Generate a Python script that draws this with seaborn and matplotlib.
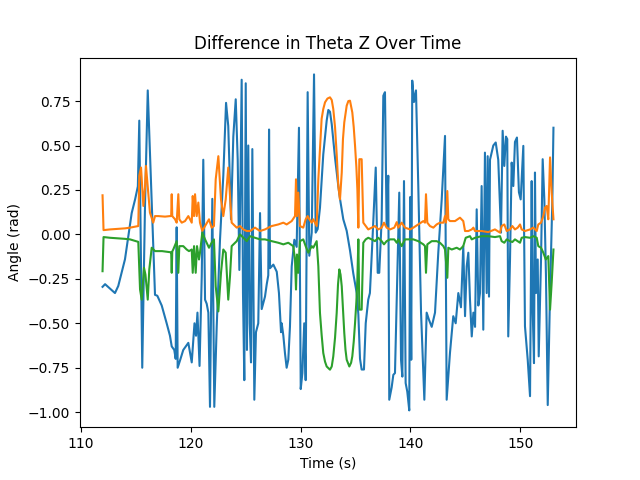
import matplotlib
matplotlib.use("Agg")
import matplotlib.pyplot as plt
import seaborn as sns

# Time stamps (s) and angle differences (rad)
t_blue = [112.00, 112.23, 112.68, 113.13, 113.43, 113.59, 114.04, 114.34, 114.65, 114.96,
          115.21, 115.34, 115.61, 115.86, 116.11, 116.77, 116.98, 117.38, 117.83, 118.13,
          118.29, 118.52, 118.65, 118.74, 118.83, 119.04, 119.34, 119.80, 120.11, 120.36,
          120.50, 120.63, 120.82, 121.02, 121.16, 121.32, 121.47, 121.62, 121.77, 121.98,
          122.16, 122.38, 122.68, 122.98, 123.23, 123.43, 123.68, 123.89, 124.11, 124.29,
          124.44, 124.65, 124.77, 124.89, 125.02, 125.13, 125.25, 125.38, 125.50, 125.62,
          125.80, 125.95, 126.16, 126.32, 126.47, 126.77, 126.93, 127.07, 127.14, 127.23,
          127.53, 127.84, 128.04, 128.23, 128.29, 128.44, 128.59, 128.74, 128.89, 129.04,
          129.20, 129.44, 129.65, 129.86, 130.02, 130.17, 130.34, 130.47, 130.56, 130.65,
          130.80, 131.02, 131.23, 131.38, 131.56, 131.77, 131.92, 132.07, 132.23, 132.38,
          132.53, 132.68, 132.84, 132.98, 133.14, 133.29, 133.44, 133.59, 133.89, 134.20,
          134.50, 134.80, 135.11, 135.26, 135.41, 135.56, 135.77, 135.93, 136.16, 136.31,
          136.53, 136.84, 137.02, 137.16, 137.38, 137.53, 137.68, 137.83, 137.98, 138.07,
          138.29, 138.44, 138.59, 138.84, 138.98, 139.14, 139.26, 139.41, 139.56, 139.71,
          139.89, 139.97, 140.07, 140.16, 140.32, 140.50, 140.71, 140.96, 141.26, 141.47,
          141.68, 141.93, 142.23, 142.53, 142.84, 143.14, 143.29, 143.59, 143.89, 144.11,
          144.35, 144.59, 144.80, 144.96, 145.11, 145.26, 145.41, 145.57, 145.72, 145.87,
          146.02, 146.17, 146.32, 146.47, 146.62, 146.77, 146.93, 147.02, 147.14, 147.23,
          147.53, 147.75, 147.98, 148.23, 148.38, 148.53, 148.68, 148.80, 148.89, 149.05,
          149.20, 149.35, 149.50, 149.68, 149.86, 150.02, 150.26, 150.41, 150.66, 150.87,
          151.02, 151.11, 151.23, 151.32, 151.41, 151.57, 151.66, 151.87, 152.02, 152.17,
          152.32, 152.48, 152.69, 152.90, 153.00]
d_blue = [-0.295, -0.28, -0.305, -0.33, -0.29, -0.25, -0.14, -0.01, 0.12, 0.197,
          0.27, 0.64, -0.75, 0.16, 0.81, -0.34, -0.345, -0.40, -0.50, -0.57,
          -0.63, -0.65, -0.70, 0.04, -0.75, -0.71, -0.65, -0.61, -0.72, -0.50,
          -0.57, -0.44, -0.74, -0.235, 0.42, -0.367, -0.39, -0.44, -0.97, 0.20,
          -0.97, -0.52, -0.03, 0.33, 0.74, 0.61, 0.085, 0.55, 0.76, 0.42,
          -0.20, 0.87, -0.33, -0.82, 0.85, -0.65, 0.50, -0.50, -0.72, 0.48,
          -0.93, -0.55, -0.50, 0.12, -0.42, -0.35, -0.28, -0.23, 0.59, -0.19,
          -0.17, -0.21, -0.33, -0.55, -0.50, -0.57, -0.67, -0.75, -0.705, -0.52,
          -0.18, -0.03, -0.07, 0.60, -0.87, -0.78, -0.50, -0.82, -0.03, 0.80,
          -0.12, 0.01, 0.90, 0.01, 0.03, 0.15, 0.30, 0.45, 0.55, 0.64,
          0.70, 0.69, 0.62, 0.53, 0.43, 0.35, 0.27, 0.20, 0.085, 0.02,
          -0.09, -0.22, -0.33, -0.45, -0.70, -0.76, -0.76, -0.50, -0.367, -0.33,
          -0.047, 0.376, -0.216, -0.216, 0.085, 0.78, 0.80, 0.047, 0.33, -0.93,
          -0.86, -0.79, -0.78, -0.14, 0.235, -0.705, -0.80, 0.30, -0.836, -0.885,
          -0.99, 0.21, -0.705, 0.865, 0.745, 0.81, 0.27, -0.44, -0.93, -0.44,
          -0.48, -0.52, -0.44, -0.10, 0.197, 0.554, -0.93, -0.667, -0.46, -0.50,
          -0.33, -0.41, -0.066, -0.46, -0.18, -0.103, -0.367, -0.574, -0.44, -0.52,
          0.141, -0.40, -0.33, 0.272, -0.536, 0.46, -0.33, 0.44, -0.35, 0.42,
          0.50, 0.517, 0.42, 0.01, 0.583, 0.385, 0.55, 0.536, -0.574, -0.14,
          0.404, 0.272, 0.52, 0.545, 0.237, 0.197, 0.498, -0.517, -0.705, -0.91,
          0.30, -0.42, -0.724, 0.348, -0.33, -0.141, -0.686, -0.141, 0.423, 0.197,
          -0.235, -0.96, -0.33, 0.197, 0.60]

t_orange = [112.00, 112.09, 112.68, 114.04, 114.50, 115.25, 115.34, 115.50, 115.71, 115.86,
            115.95, 116.16, 116.31, 116.61, 116.77, 117.07, 117.68, 118.13, 118.24, 118.29,
            118.34, 118.59, 118.74, 118.89, 118.98, 119.20, 119.50, 119.80, 120.11, 120.20,
            120.32, 120.41, 120.56, 120.71, 120.86, 121.07, 121.32, 121.68, 121.92, 122.13,
            122.29, 122.53, 122.77, 122.98, 123.20, 123.43, 123.59, 123.74, 124.20, 124.50,
            124.80, 125.11, 125.41, 125.86, 126.32, 126.77, 127.38, 127.98, 128.44, 128.74,
            129.20, 129.50, 129.59, 129.68, 129.80, 129.95, 130.25, 130.47, 130.65, 130.80,
            131.02, 131.16, 131.47, 131.62, 131.77, 131.92, 132.07, 132.23, 132.45, 132.68,
            132.84, 132.98, 133.14, 133.29, 133.44, 133.59, 133.75, 133.86, 133.98, 134.20,
            134.35, 134.50, 134.71, 134.84, 134.96, 135.08, 135.17, 135.26, 135.35, 135.56,
            135.71, 135.93, 136.16, 136.47, 136.77, 137.07, 137.38, 137.59, 137.83, 138.14,
            138.53, 138.75, 138.89, 139.20, 139.50, 139.96, 140.26, 140.71, 141.17, 141.32,
            141.41, 141.53, 141.77, 142.08, 142.38, 142.68, 142.99, 143.14, 143.23, 143.35,
            143.44, 143.59, 144.05, 144.50, 144.80, 144.96, 145.26, 145.57, 145.72, 145.87,
            146.47, 147.07, 147.68, 148.14, 148.29, 148.53, 148.75, 149.05, 149.26, 149.50,
            149.75, 149.96, 150.11, 150.41, 150.87, 151.17, 151.48, 151.62, 151.87, 152.08,
            152.23, 152.38, 152.53, 152.69, 152.84, 153.00]
d_orange = [0.22, 0.024, 0.028, 0.034, 0.038, 0.047, 0.33, 0.376, 0.16, 0.265,
            0.385, 0.235, 0.122, 0.066, 0.103, 0.103, 0.10, 0.103, 0.103, 0.226,
            0.103, 0.085, 0.066, 0.226, 0.085, 0.066, 0.075, 0.103, 0.066, 0.216,
            0.103, 0.226, 0.103, 0.179, 0.066, 0.019, 0.047, 0.085, 0.038, 0.047,
            0.31, 0.44, 0.197, 0.103, 0.197, 0.376, 0.216, 0.066, 0.038, 0.047,
            0.028, 0.019, 0.019, 0.038, 0.019, 0.028, 0.047, 0.056, 0.066, 0.056,
            0.075, 0.103, 0.31, 0.103, 0.235, 0.047, 0.038, 0.085, 0.103, 0.085,
            0.066, 0.085, 0.047, 0.31, 0.48, 0.65, 0.705, 0.743, 0.764, 0.771,
            0.756, 0.705, 0.603, 0.451, 0.272, 0.197, 0.348, 0.536, 0.63, 0.724,
            0.75, 0.752, 0.686, 0.603, 0.498, 0.378, 0.254, 0.038, 0.423, 0.423,
            0.066, 0.047, 0.028, 0.038, 0.047, 0.028, 0.038, 0.066, 0.038, 0.028,
            0.038, 0.069, 0.038, 0.066, 0.038, 0.028, 0.038, 0.056, 0.075, 0.066,
            0.226, 0.066, 0.047, 0.038, 0.056, 0.066, 0.066, 0.103, 0.066, 0.244,
            0.085, 0.075, 0.075, 0.094, 0.075, 0.019, 0.019, 0.028, 0.038, 0.019,
            0.019, 0.013, 0.028, 0.010, 0.047, 0.056, 0.019, 0.028, 0.047, 0.028,
            0.038, 0.056, 0.028, 0.019, 0.028, 0.038, 0.019, 0.056, 0.066, 0.103,
            0.151, 0.160, 0.085, 0.433, 0.235, 0.085]

t_green = [112.00, 112.09, 112.68, 114.04, 114.50, 115.25, 115.41, 115.56, 115.77, 115.90,
           116.11, 116.25, 116.47, 116.77, 117.41, 118.13, 118.24, 118.29, 118.34, 118.43,
           118.74, 118.89, 118.98, 119.34, 119.65, 119.86, 120.11, 120.20, 120.32, 120.47,
           120.59, 120.77, 120.86, 121.07, 121.32, 121.68, 121.92, 122.13, 122.29, 122.53,
           122.77, 122.98, 123.20, 123.43, 123.59, 123.74, 124.20, 124.50, 124.80, 125.11,
           125.41, 125.86, 126.32, 126.77, 127.38, 127.98, 128.44, 128.89, 129.34, 129.50,
           129.59, 129.68, 129.80, 129.95, 130.25, 130.47, 130.71, 131.02, 131.16, 131.47,
           131.62, 131.77, 131.92, 132.07, 132.23, 132.38, 132.68, 132.84, 132.98, 133.14,
           133.29, 133.41, 133.53, 133.64, 133.75, 133.86, 133.98, 134.09, 134.20, 134.44,
           134.60, 134.71, 134.84, 134.96, 135.08, 135.17, 135.26, 135.35, 135.56, 135.71,
           135.93, 136.16, 136.47, 136.77, 137.07, 137.38, 137.59, 137.83, 138.14, 138.53,
           138.75, 138.89, 139.20, 139.50, 140.26, 140.71, 141.17, 141.32, 141.41, 141.53,
           141.93, 142.38, 142.68, 142.99, 143.14, 143.35, 143.44, 143.75, 144.20, 144.50,
           144.80, 145.02, 145.41, 145.57, 145.87, 146.47, 147.07, 147.68, 148.14, 148.29,
           148.53, 148.75, 149.05, 149.26, 149.50, 149.75, 149.96, 150.11, 150.41, 150.87,
           151.17, 151.48, 151.62, 151.87, 152.08, 152.30, 152.53, 152.69, 152.84, 153.00]
d_green = [-0.207, -0.015, -0.019, -0.025, -0.028, -0.042, -0.31, -0.367, -0.188, -0.226,
           -0.367, -0.197, -0.075, -0.094, -0.094, -0.100, -0.10, -0.216, -0.096, -0.085,
           -0.038, -0.216, -0.066, -0.066, -0.085, -0.094, -0.085, -0.216, -0.066, -0.216,
           -0.066, -0.141, -0.103, 0.010, -0.028, -0.075, -0.047, -0.028, -0.292, -0.433,
           -0.216, -0.085, -0.103, -0.367, -0.235, -0.066, -0.038, 0.0, -0.019, -0.038,
           -0.010, -0.019, -0.028, -0.028, -0.038, -0.047, -0.056, -0.047, -0.066, -0.141,
           -0.31, -0.113, -0.216, -0.038, -0.028, -0.066, -0.103, -0.066, -0.075, -0.038,
           -0.179, -0.442, -0.564, -0.667, -0.716, -0.743, -0.761, -0.743, -0.686, -0.581,
           -0.442, -0.282, -0.197, -0.226, -0.292, -0.423, -0.554, -0.649, -0.705, -0.743,
           -0.722, -0.686, -0.603, -0.498, -0.378, -0.254, -0.028, -0.423, -0.423, -0.047,
           -0.028, -0.019, -0.028, -0.038, -0.019, -0.038, -0.056, -0.038, -0.028, -0.028,
           -0.047, -0.028, -0.066, -0.028, -0.028, -0.038, -0.056, -0.066, -0.216, -0.056,
           -0.038, -0.038, -0.047, -0.066, -0.085, -0.244, -0.075, -0.085, -0.075, -0.085,
           -0.066, -0.019, -0.010, -0.028, -0.019, -0.010, -0.010, -0.015, -0.010, -0.038,
           -0.047, -0.028, -0.038, -0.043, -0.028, -0.038, -0.047, -0.019, -0.015, -0.019,
           -0.010, -0.019, -0.066, -0.075, -0.103, -0.141, -0.122, -0.423, -0.27, -0.085]

fig, ax = plt.subplots(figsize=(6.4, 4.8), dpi=100)

sns.lineplot(x=t_blue, y=d_blue, color="C0", estimator=None, sort=False, ax=ax)
sns.lineplot(x=t_orange, y=d_orange, color="C1", estimator=None, sort=False, ax=ax)
sns.lineplot(x=t_green, y=d_green, color="C2", estimator=None, sort=False, ax=ax)

ax.set_title("Difference in Theta Z Over Time")
ax.set_xlabel("Time (s)")
ax.set_ylabel("Angle (rad)")

fig.savefig("out.png", dpi=100)
